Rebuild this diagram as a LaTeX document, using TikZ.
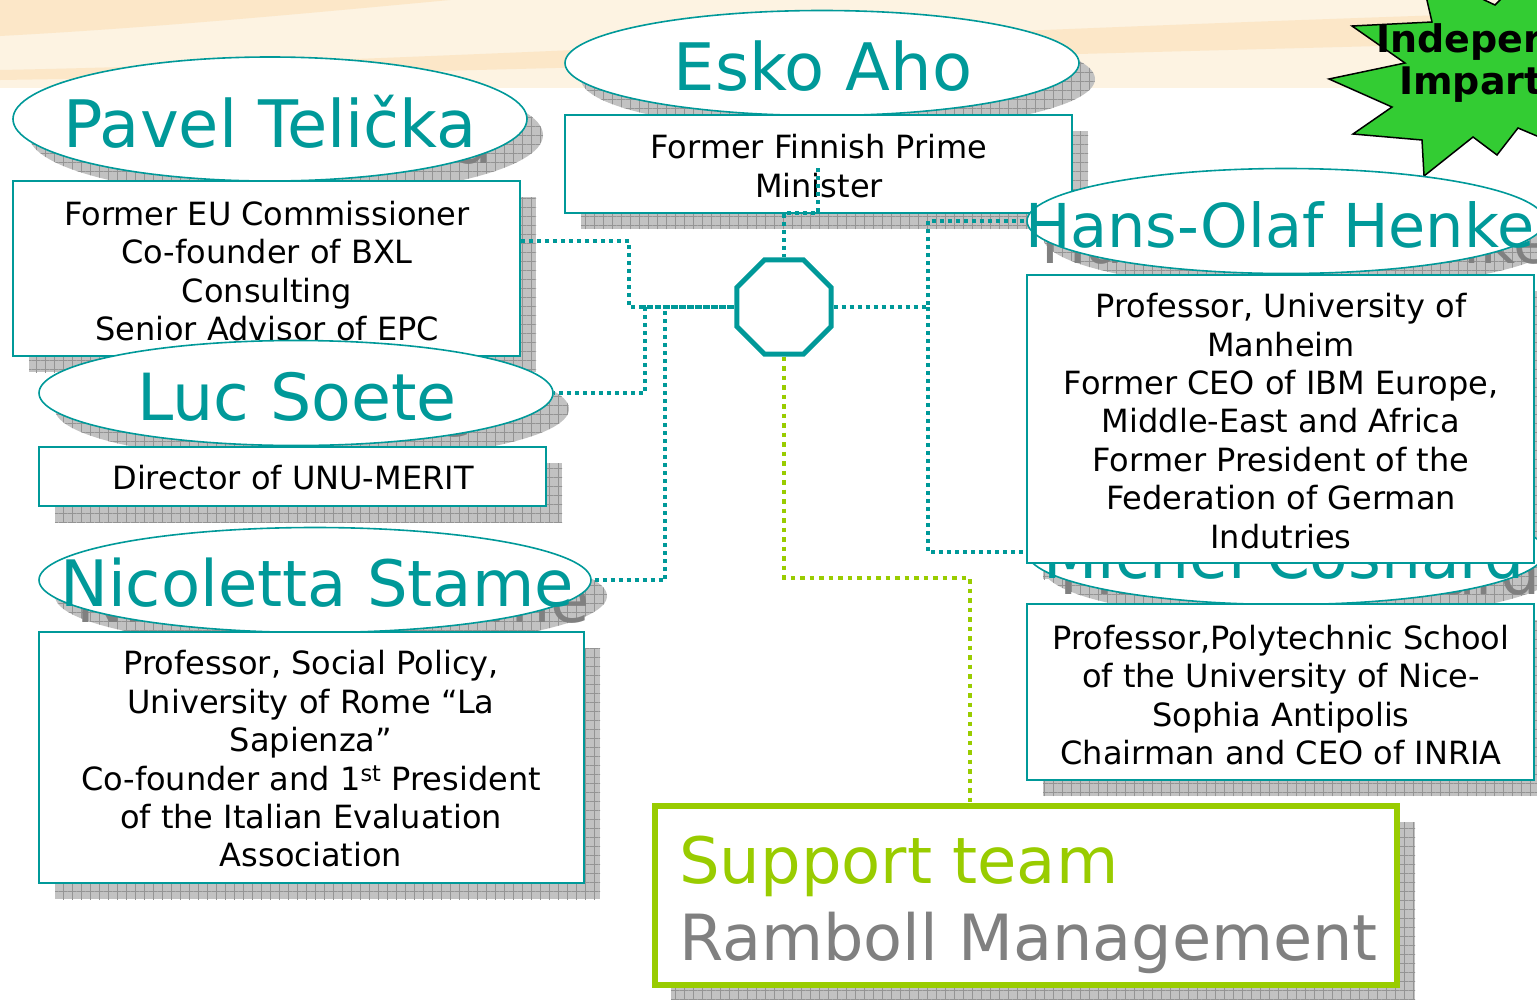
\documentclass[tikz,border=0pt]{standalone}
\usepackage{fontspec}
\setmainfont{DejaVu Sans}
\usetikzlibrary{shapes.geometric,patterns.meta}
\definecolor{teal1}{RGB}{0,153,153}
\definecolor{green1}{RGB}{153,204,0}
\definecolor{star1}{RGB}{51,204,51}
\definecolor{gray1}{RGB}{128,128,128}
\definecolor{peachA}{RGB}{253,243,226}
\definecolor{peachB}{RGB}{252,231,200}
\tikzset{
  shadowfill/.style={fill=black!24,
    postaction={pattern={Lines[distance=9pt,angle=0,line width=0.7pt]},pattern color=black!42},
    postaction={pattern={Lines[distance=9pt,angle=90,line width=0.7pt]},pattern color=black!42}},
  namee/.style={ellipse, draw=teal1, line width=1.6pt, fill=white, inner sep=0pt,
    minimum width=514pt, minimum height=105pt},
  nametext/.style={text=teal1, font=\fontsize{#1}{70}\selectfont, inner sep=0pt, anchor=base},
  nametext/.default=63,
  shadowtext/.style={text=gray1, font=\fontsize{#1}{70}\selectfont, inner sep=0pt, anchor=base},
  shadowtext/.default=63,
  infobox/.style={rectangle, draw=teal1, line width=1.6pt, fill=white, inner sep=0pt},
  infotext/.style={align=center, font=\fontsize{32}{38.4}\selectfont, inner sep=0pt},
  conn/.style={teal1, line width=4pt, dash pattern=on 4pt off 4pt},
  gconn/.style={green1, line width=4.5pt, dash pattern=on 4.5pt off 5pt},
}
\begin{document}
\begin{tikzpicture}[x=1pt,y=-1pt]
\useasboundingbox (0,0) rectangle (1537,999);
\clip (0,0) rectangle (1537,999);
% background
\fill[white] (0,0) rectangle (1537,999);
\fill[peachA] (0,0) rectangle (1537,88);
\fill[peachB] (0,0) -- (0,36) .. controls (150,28) and (300,14) .. (450,0) -- cycle;
\fill[peachB] (0,70) .. controls (400,62) and (900,32) .. (1537,12) -- (1537,42) .. controls (900,58) and (400,74) .. (0,80) -- cycle;
% star
\draw[fill=star1, draw=black, line width=1.5pt]
  (1420,-30) -- (1432,22) -- (1352,26) -- (1405,63) -- (1329,79) -- (1392,107)
  -- (1353,134) -- (1422,140) -- (1424,176) -- (1473,137) -- (1497,155)
  -- (1518,128) -- (1570,150) -- (1570,-40) -- (1540,-40) -- (1495,5) -- cycle;
\node[anchor=base west, inner sep=0pt, font=\bfseries\fontsize{38}{44}\selectfont] (star1) at (1376,52) {Indeper};
\node[anchor=base west, inner sep=0pt, font=\bfseries\fontsize{38}{44}\selectfont] (star2) at (1399,94) {Impart};
% shadows
\path[shadowfill] (838,79) ellipse [x radius=257, y radius=52.5];
\path[shadowfill] (581,131) rectangle (1088,229);
\path[shadowfill] (286,135) ellipse [x radius=257, y radius=62];
\path[shadowfill] (29,197) rectangle (536,372);
\path[shadowfill] (312,409) ellipse [x radius=257, y radius=52.5];
\path[shadowfill] (55,463) rectangle (562,522);
\path[shadowfill] (331,596) ellipse [x radius=276, y radius=52.5];
\path[shadowfill] (55,648) rectangle (600,899);
\path[shadowfill] (1302,237) ellipse [x radius=259, y radius=52.5];
\path[shadowfill] (1043,291) rectangle (1550,579);
\path[shadowfill] (1302,568) ellipse [x radius=259, y radius=52.5];
\path[shadowfill] (1043,620) rectangle (1550,796);
\path[shadowfill] (671,822) rectangle (1415,1002);
% shadow texts
\node[shadowtext=65.5] (eskoS) at (839,106) {Esko Aho};
\node[shadowtext=65.5] (pavelS) at (286,163) {Pavel Telička};
\node[shadowtext=65] (lucS) at (313,436) {Luc Soete};
\node[shadowtext=64] (nicS) at (333,622) {Nicoletta Stame};
\node[shadowtext=60.5] (hansS) at (1304,263) {Hans-Olaf Henkel};
\node[shadowtext=63] (micS) at (1300,594) {Michel Cosnard};
% Esko Aho
\node[namee] (eskoell) at (822,63) {};
\node[nametext=65.5] (eskoname) at (823,90) {Esko Aho};
\node[infobox, minimum width=507pt, minimum height=98pt] (eskobox) at (818.5,164) {};
\node[infotext] (eskotext) at (819,166) {Former Finnish Prime\\Minister};
% Pavel Telicka
\node[namee, minimum height=124pt] (pavelell) at (270,119) {};
\node[nametext=65.5] (pavelname) at (270,147) {Pavel Telička};
\node[infobox, minimum width=507pt, minimum height=175pt] (pavelbox) at (266.5,268.5) {};
\node[infotext] (paveltext) at (267,271) {Former EU Commissioner\\Co-founder of BXL\\Consulting\\Senior Advisor of EPC};
% Luc Soete
\node[namee] (lucell) at (296,393) {};
\node[nametext=65] (lucname) at (297,420) {Luc Soete};
\node[infobox, minimum width=507pt, minimum height=59pt] (lucbox) at (292.5,476.5) {};
\node[infotext] (luctext) at (293,478) {Director of UNU-MERIT};
% Nicoletta Stame
\node[namee, minimum width=552pt] (nicell) at (315,580) {};
\node[nametext=64] (nicname) at (317,606) {Nicoletta Stame};
\node[infobox, minimum width=545pt, minimum height=251pt] (nicbox) at (311.5,757.5) {};
\node[infotext] (nictext) at (311,759) {Professor, Social Policy,\\University of Rome “La\\Sapienza”\\Co-founder and 1\textsuperscript{st} President\\of the Italian Evaluation\\Association};
% Michel Cosnard
\node[namee, minimum width=518pt] (micell) at (1286,552) {};
\node[nametext=63] (micname) at (1284,578) {Michel Cosnard};
\node[infobox, minimum width=507pt, minimum height=176pt] (micbox) at (1280.5,692) {};
\node[infotext] (mictext) at (1281,695) {Professor,Polytechnic School\\of the University of Nice-\\Sophia Antipolis\\Chairman and CEO of INRIA};
% Hans-Olaf Henkel
\node[namee, minimum width=518pt] (hansell) at (1286,221) {};
\node[nametext=60.5] (hansname) at (1288,247) {Hans-Olaf Henkel};
\node[infobox, minimum width=507pt, minimum height=288pt] (hansbox) at (1280.5,419) {};
\node[infotext] (hanstext) at (1281,421) {Professor, University of\\Manheim\\Former CEO of IBM Europe,\\Middle-East and Africa\\Former President of the\\Federation of German\\Indutries};
% hub
\node[regular polygon, regular polygon sides=8, minimum size=102pt, draw=teal1,
      line width=5pt, fill=white, inner sep=0pt] (octa) at (784,307) {};
% support team
\node[rectangle, draw=green1, line width=6pt, fill=white, minimum width=742pt,
      minimum height=179pt, inner sep=0pt] (support) at (1026,895.5) {};
\node[anchor=base west, inner sep=0pt, text=green1, font=\fontsize{64}{70}\selectfont] (suptext) at (679,883) {Support team};
\node[anchor=base west, inner sep=0pt, text=gray1, font=\fontsize{63.7}{70}\selectfont] (ramtext) at (679,960) {Ramboll Management};
% connectors
\coordinate (pj) at (629,241);
\coordinate (lj) at (645,307);
\coordinate (nj) at (665,307);
\coordinate (ej) at (818,168);
\coordinate (ej2) at (818,213);
\coordinate (hj) at (928,307);
\coordinate (gj) at (970,578);
\draw[conn] (pavelbox.east |- pj) -- (pj) |- (octa.west);
\draw[conn, dash phase=2.7pt] (lucell.east) -| (lj) -- (octa.west);
\draw[conn, dash phase=5.3pt] (nicell.east) -| (nj) -- (octa.west);
\draw[conn] (ej) -- (ej2) -| (octa.north);
\draw[conn] (octa.east) -- (hj) |- (hansell.west);
\draw[conn] (hj) |- (micell.west);
\draw[gconn] (octa.south) |- (gj) -- (gj |- support.north);
\end{tikzpicture}
\end{document}
